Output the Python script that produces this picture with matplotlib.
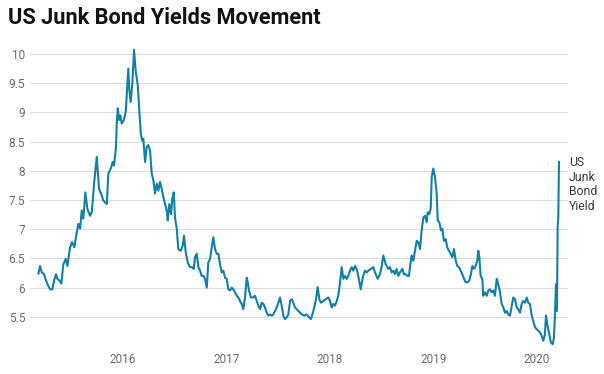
import matplotlib
matplotlib.use("Agg")
import matplotlib.pyplot as plt

# weekly-ish readings, decimal years vs yield (%)
year = [
    2015.182, 2015.198, 2015.214, 2015.237, 2015.246, 2015.269, 2015.295, 2015.317,
    2015.333, 2015.353, 2015.365, 2015.385, 2015.404, 2015.423, 2015.446, 2015.462,
    2015.488, 2015.507, 2015.529, 2015.553, 2015.568, 2015.585, 2015.601, 2015.616,
    2015.636, 2015.655, 2015.681, 2015.698, 2015.720, 2015.746, 2015.768, 2015.787,
    2015.810, 2015.843, 2015.858, 2015.881, 2015.900, 2015.913, 2015.932, 2015.939,
    2015.949, 2015.961, 2015.974, 2015.987, 2016.007, 2016.026, 2016.039, 2016.051,
    2016.061, 2016.074, 2016.090, 2016.106, 2016.123, 2016.142, 2016.155, 2016.171,
    2016.184, 2016.196, 2016.213, 2016.229, 2016.244, 2016.261, 2016.277, 2016.293,
    2016.309, 2016.326, 2016.341, 2016.357, 2016.374, 2016.389, 2016.406, 2016.422,
    2016.432, 2016.447, 2016.464, 2016.476, 2016.490, 2016.502, 2016.519, 2016.534,
    2016.557, 2016.577, 2016.589, 2016.606, 2016.625, 2016.647, 2016.670, 2016.683,
    2016.696, 2016.712, 2016.728, 2016.744, 2016.760, 2016.776, 2016.792, 2016.809,
    2016.824, 2016.841, 2016.857, 2016.872, 2016.889, 2016.905, 2016.921, 2016.937,
    2016.954, 2016.969, 2016.986, 2017.002, 2017.017, 2017.034, 2017.050, 2017.066,
    2017.082, 2017.099, 2017.114, 2017.130, 2017.147, 2017.162, 2017.179, 2017.195,
    2017.205, 2017.217, 2017.237, 2017.259, 2017.275, 2017.292, 2017.307, 2017.324,
    2017.340, 2017.356, 2017.372, 2017.388, 2017.404, 2017.420, 2017.437, 2017.452,
    2017.469, 2017.485, 2017.501, 2017.517, 2017.533, 2017.549, 2017.565, 2017.582,
    2017.597, 2017.614, 2017.630, 2017.645, 2017.662, 2017.678, 2017.694, 2017.727,
    2017.752, 2017.775, 2017.797, 2017.816, 2017.839, 2017.862, 2017.881, 2017.897,
    2017.913, 2017.935, 2017.958, 2017.984, 2018.000, 2018.016, 2018.032, 2018.048,
    2018.065, 2018.080, 2018.097, 2018.113, 2018.129, 2018.145, 2018.161, 2018.177,
    2018.193, 2018.210, 2018.225, 2018.242, 2018.258, 2018.273, 2018.297, 2018.316,
    2018.338, 2018.355, 2018.370, 2018.396, 2018.418, 2018.435, 2018.461, 2018.483,
    2018.500, 2018.515, 2018.538, 2018.548, 2018.563, 2018.580, 2018.596, 2018.612,
    2018.628, 2018.644, 2018.660, 2018.676, 2018.699, 2018.715, 2018.731, 2018.747,
    2018.763, 2018.776, 2018.789, 2018.805, 2018.821, 2018.838, 2018.853, 2018.870,
    2018.886, 2018.902, 2018.918, 2018.934, 2018.944, 2018.959, 2018.973, 2018.983,
    2018.998, 2019.015, 2019.031, 2019.041, 2019.056, 2019.073, 2019.085, 2019.101,
    2019.118, 2019.133, 2019.150, 2019.166, 2019.182, 2019.198, 2019.215, 2019.230,
    2019.246, 2019.263, 2019.278, 2019.295, 2019.311, 2019.330, 2019.346, 2019.362,
    2019.375, 2019.391, 2019.408, 2019.423, 2019.433, 2019.443, 2019.456, 2019.472,
    2019.481, 2019.498, 2019.514, 2019.530, 2019.546, 2019.562, 2019.578, 2019.594,
    2019.611, 2019.626, 2019.643, 2019.659, 2019.675, 2019.691, 2019.707, 2019.723,
    2019.739, 2019.756, 2019.771, 2019.788, 2019.804, 2019.819, 2019.836, 2019.852,
    2019.868, 2019.884, 2019.901, 2019.916, 2019.932, 2019.949, 2019.964, 2019.981,
    2019.997, 2020.013, 2020.029, 2020.046, 2020.061, 2020.077, 2020.087, 2020.100,
    2020.116, 2020.135, 2020.152, 2020.164, 2020.174, 2020.184, 2020.193, 2020.200,
    2020.206, 2020.213,
]
yield_pct = [
    6.24, 6.37, 6.26, 6.23, 6.17, 6.06, 5.97, 5.97,
    6.12, 6.23, 6.15, 6.12, 6.07, 6.40, 6.49, 6.37,
    6.69, 6.78, 6.69, 6.95, 7.09, 7.01, 7.32, 7.18,
    7.63, 7.35, 7.23, 7.29, 7.78, 8.24, 7.69, 7.61,
    7.49, 7.43, 7.95, 8.04, 8.15, 8.09, 8.41, 8.81,
    9.07, 8.87, 8.95, 8.81, 8.87, 9.01, 9.38, 9.75,
    9.38, 9.18, 9.50, 10.07, 9.70, 9.47, 9.09, 8.64,
    8.52, 8.55, 8.15, 8.41, 8.44, 8.35, 7.95, 7.84,
    7.61, 7.78, 7.66, 7.81, 7.69, 7.55, 7.43, 7.32,
    7.15, 7.43, 7.26, 7.52, 7.63, 7.20, 7.01, 6.66,
    6.63, 6.72, 6.89, 6.60, 6.43, 6.35, 6.35, 6.32,
    6.52, 6.58, 6.35, 6.29, 6.20, 6.20, 6.15, 6.00,
    6.43, 6.49, 6.69, 6.86, 6.66, 6.58, 6.58, 6.40,
    6.26, 6.29, 6.17, 6.15, 5.97, 5.95, 6.00, 5.97,
    5.92, 5.86, 5.83, 5.77, 5.72, 5.63, 5.83, 6.17,
    6.09, 5.95, 5.83, 5.83, 5.86, 5.77, 5.69, 5.63,
    5.74, 5.72, 5.66, 5.57, 5.52, 5.54, 5.52, 5.54,
    5.60, 5.66, 5.74, 5.83, 5.69, 5.52, 5.46, 5.49,
    5.54, 5.77, 5.80, 5.74, 5.66, 5.63, 5.60, 5.54,
    5.52, 5.54, 5.49, 5.46, 5.60, 5.77, 6.01, 5.80,
    5.74, 5.77, 5.80, 5.83, 5.77, 5.66, 5.72, 5.69,
    5.77, 5.86, 6.09, 6.35, 6.15, 6.20, 6.15, 6.20,
    6.29, 6.35, 6.29, 6.37, 6.32, 6.20, 5.97, 6.17,
    6.29, 6.26, 6.29, 6.32, 6.35, 6.26, 6.15, 6.23,
    6.37, 6.55, 6.40, 6.37, 6.32, 6.35, 6.26, 6.29,
    6.23, 6.32, 6.20, 6.26, 6.32, 6.23, 6.23, 6.20,
    6.20, 6.40, 6.55, 6.46, 6.63, 6.80, 6.78, 6.66,
    6.98, 7.20, 7.23, 7.12, 7.29, 7.26, 7.35, 7.89,
    8.04, 7.89, 7.61, 7.15, 7.12, 6.98, 7.01, 6.80,
    6.83, 6.69, 6.63, 6.58, 6.52, 6.66, 6.46, 6.37,
    6.35, 6.29, 6.23, 6.15, 6.09, 6.09, 6.12, 6.23,
    6.37, 6.32, 6.37, 6.46, 6.63, 6.52, 6.20, 6.15,
    5.86, 5.92, 5.86, 5.95, 5.97, 5.92, 5.95, 5.86,
    6.15, 6.06, 5.92, 5.72, 5.66, 5.57, 5.60, 5.54,
    5.52, 5.69, 5.83, 5.80, 5.66, 5.63, 5.57, 5.72,
    5.77, 5.74, 5.83, 5.74, 5.72, 5.52, 5.43, 5.32,
    5.29, 5.26, 5.23, 5.17, 5.09, 5.20, 5.52, 5.37,
    5.23, 5.06, 5.03, 5.14, 5.54, 6.06, 5.60, 7.03,
    7.20, 8.15,
]
year_ticks = [2016, 2017, 2018, 2019, 2020]
yield_ticks = [5.5, 6, 6.5, 7, 7.5, 8, 8.5, 9, 9.5, 10]
series_label = "US\nJunk\nBond\nYield"
title = "US Junk Bond Yields Movement"

plt.rcParams['font.family'] = ['Roboto', 'DejaVu Sans']

fig = plt.figure(figsize=(6.04, 3.74), dpi=100)
ax = fig.add_axes([0.0497, 0.0749, 0.8907, 0.8041])

ax.plot(year, yield_pct, color='#137fa8', lw=1.5, solid_joinstyle='round')

ax.set_xlim(2015.101, 2020.30)
ax.set_ylim(5.0, 10.15)
ax.set_xticks(year_ticks)
ax.set_xticklabels([str(y) for y in year_ticks])
ax.set_yticks(yield_ticks)
ax.set_yticklabels(['%g' % v for v in yield_ticks])
ax.tick_params(axis='both', length=0, labelsize=8.5, colors='#6b6b6b')
ax.tick_params(axis='y', pad=3.5)
ax.tick_params(axis='x', pad=5)
ax.grid(axis='y', color='#dcdcdc', lw=0.8)
ax.grid(axis='x', visible=False)
ax.set_axisbelow(True)
for s in ax.spines.values():
    s.set_visible(False)

ax.annotate(series_label, xy=(year[-1], yield_pct[-1]), xytext=(10, 6),
            textcoords='offset pixels', va='top', ha='left',
            fontsize=8.8, color='#3c3c3c', linespacing=1.15,
            annotation_clip=False)

fig.text(8 / 604, 1 - 23.5 / 374, title, fontsize=15.7, fontweight='bold',
         color='#111111', va='baseline', ha='left')

fig.savefig('out.png', dpi=100)
